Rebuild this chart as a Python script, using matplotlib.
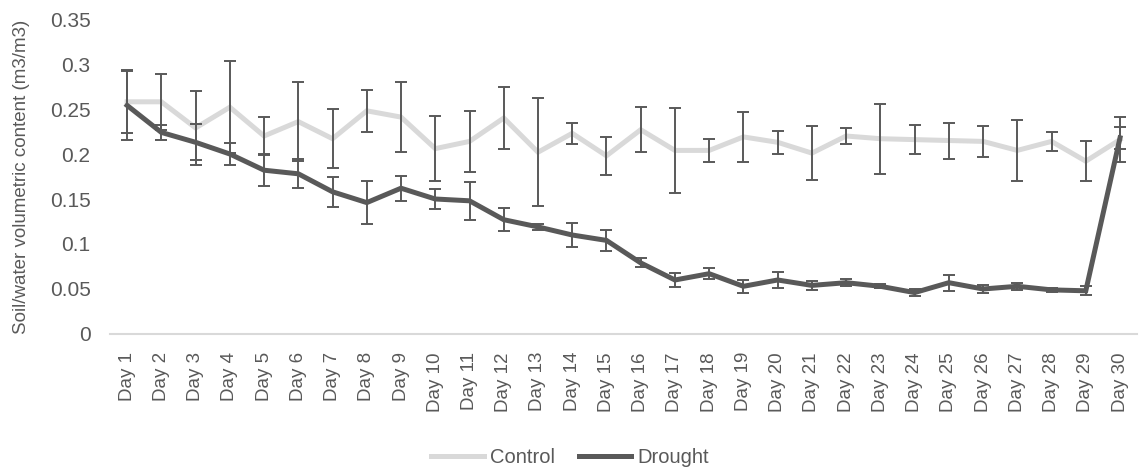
import numpy as np
import matplotlib
matplotlib.use('Agg')
import matplotlib.pyplot as plt

days = ['Day %d' % i for i in range(1, 31)]

control = [0.258, 0.258, 0.229, 0.252, 0.220, 0.236, 0.217, 0.248, 0.241, 0.206,
           0.214, 0.240, 0.202, 0.223, 0.198, 0.227, 0.204, 0.204, 0.219, 0.213,
           0.201, 0.220, 0.217, 0.216, 0.215, 0.214, 0.204, 0.214, 0.192, 0.216]
control_err = [0.035, 0.031, 0.041, 0.051, 0.021, 0.044, 0.033, 0.023, 0.039, 0.036,
               0.034, 0.034, 0.060, 0.012, 0.021, 0.025, 0.047, 0.013, 0.028, 0.013,
               0.030, 0.009, 0.039, 0.016, 0.020, 0.017, 0.034, 0.011, 0.022, 0.025]

drought = [0.254, 0.224, 0.213, 0.200, 0.182, 0.178, 0.158, 0.146, 0.162, 0.150,
           0.148, 0.127, 0.119, 0.110, 0.104, 0.079, 0.060, 0.067, 0.053, 0.060,
           0.054, 0.057, 0.053, 0.046, 0.057, 0.050, 0.053, 0.049, 0.048, 0.218]
drought_err = [0.038, 0.008, 0.020, 0.012, 0.018, 0.016, 0.017, 0.024, 0.014, 0.011,
               0.021, 0.013, 0.003, 0.013, 0.012, 0.005, 0.008, 0.006, 0.007, 0.009,
               0.005, 0.004, 0.002, 0.004, 0.009, 0.004, 0.004, 0.002, 0.005, 0.012]

grey_text = '#595959'
plt.rcParams['font.family'] = ['Liberation Sans', 'DejaVu Sans']

fig = plt.figure(figsize=(11.4, 4.72), dpi=100)
ax = fig.add_axes([0.0965, 0.2924, 0.901, 0.6673])
x = np.arange(len(days))

ax.plot(x, control, color='#d9d9d9', lw=3.6, label='Control', zorder=2,
        solid_joinstyle='miter')
ax.plot(x, drought, color='#595959', lw=3.6, label='Drought', zorder=3,
        solid_joinstyle='miter')
ax.errorbar(x, control, yerr=control_err, fmt='none', ecolor='#595959',
            elinewidth=1.4, capsize=4.6, capthick=1.4, zorder=4)
ax.errorbar(x, drought, yerr=drought_err, fmt='none', ecolor='#595959',
            elinewidth=1.4, capsize=4.6, capthick=1.4, zorder=4)

ax.set_xlim(-0.5, len(days) - 0.5)
ax.set_ylim(0, 0.35)
ax.set_yticks(np.arange(0, 0.351, 0.05))
ax.set_yticklabels(['0', '0.05', '0.1', '0.15', '0.2', '0.25', '0.3', '0.35'])
ax.set_xticks(x)
ax.set_xticklabels(days, rotation=90)
ax.tick_params(axis='y', length=0, pad=14, labelsize=15, labelcolor=grey_text)
ax.tick_params(axis='x', length=0, pad=13, labelsize=13.5, labelcolor=grey_text)

for side in ['top', 'right', 'left']:
    ax.spines[side].set_visible(False)
ax.spines['bottom'].set_color('#d9d9d9')
ax.spines['bottom'].set_linewidth(1.5)

ax.set_ylabel('Soil/water volumetric content (m3/m3)', fontsize=13.5,
              color=grey_text, labelpad=14)

fig.legend(loc='center', bbox_to_anchor=(0.5, 0.03), ncol=2, frameon=False,
           fontsize=14.5, labelcolor=grey_text, handlelength=2.6,
           handletextpad=0.3, columnspacing=1.2)

fig.savefig('out.png', dpi=100)
